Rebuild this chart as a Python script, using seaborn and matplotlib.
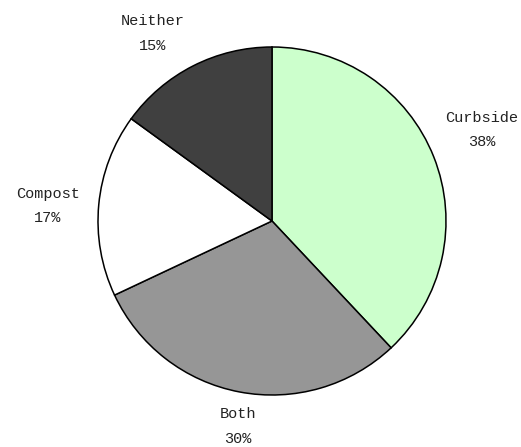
import matplotlib
matplotlib.use("Agg")
import matplotlib.pyplot as plt
import seaborn as sns

categories = ["Curbside", "Both", "Compost", "Neither"]
values = [38, 30, 17, 15]
colors = ["#CCFFCC", "#969696", "#FFFFFF", "#404040"]
label_pos = [(1.207, 0.523), (-0.198, -1.181), (-1.287, 0.086), (-0.687, 1.078)]

sns.set_theme(style="white")
plt.rcParams["font.family"] = ["Liberation Mono", "DejaVu Sans"]

W, H = 521, 447
fig = plt.figure(figsize=(W / 100, H / 100), dpi=100)
cx, cy, r = 272, 221, 174
ax = fig.add_axes([(cx - r) / W, (H - cy - r) / H, 2 * r / W, 2 * r / H])
ax.pie(values, colors=colors, startangle=90, counterclock=False,
       wedgeprops=dict(edgecolor="black", linewidth=1.1), radius=1)
ax.set_xlim(-1, 1)
ax.set_ylim(-1, 1)
ax.axis("off")

for cat, v, (x, y) in zip(categories, values, label_pos):
    ax.text(x, y, f"{cat}\n{v}%", ha="center", va="center", fontsize=11,
            linespacing=1.95, color="#222222", clip_on=False)

fig.savefig("out.png", dpi=100)
